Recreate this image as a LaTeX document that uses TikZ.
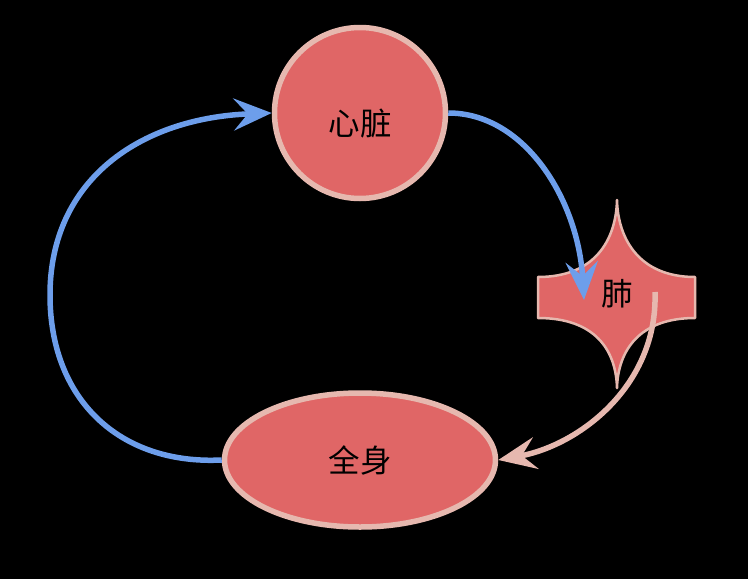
\documentclass[tikz,border=0pt]{standalone}
\usepackage{fontspec}
\newfontfamily\cjk{Noto Sans CJK SC}
\usetikzlibrary{arrows.meta,shapes.geometric}
\definecolor{organfill}{HTML}{E06666}
\definecolor{organline}{HTML}{E6B8AF}
\definecolor{flowblue}{HTML}{6D9EEB}
\tikzset{
  organtext/.style={font=\cjk\fontsize{31.5}{34}\selectfont, text=black},
  organ/.style={draw=organline, fill=organfill, line width=5.5pt, organtext},
  flow/.style={line width=5.5pt, -{Stealth[length=38pt,width=32pt,inset=14pt]}},
}
\begin{document}
\begin{tikzpicture}[x=1pt,y=-1pt]
\fill[black] (0,0) rectangle (748,579);
\useasboundingbox (0,0) rectangle (748,579);
% heart
\node[organ, circle, minimum size=171pt] (heart) at (360,113) {};
\node[organtext] (heartlabel) at (360,124) {心脏};
% body
\node[organ, ellipse, minimum width=271pt, minimum height=134pt] (body) at (360,460) {全身};
% lung shape
\draw[draw=organline, fill=organfill, line width=2.5pt, line join=round]
  (538,277) .. controls (595,277) and (616,240) .. (617,200)
  .. controls (618,240) and (640,277) .. (695,277)
  -- (695,318)
  .. controls (640,318) and (618,350) .. (617,388)
  .. controls (616,350) and (595,318) .. (538,318) -- cycle;
\node[organtext] (lung) at (617,294) {肺};
\coordinate (lungin) at (584,300);
\coordinate (lungout) at (655,292);
% connectors
\draw[flow, flowblue] (heart.east) .. controls (525,113) and (578,200) .. (lungin);
\draw[flow, organline] (lungout) .. controls (658,385) and (580,445) .. (body.east);
\draw[flow, flowblue] (body.west) .. controls (120,465) and (50,400) .. (50,295)
  .. controls (50,180) and (140,118) .. (heart.west);
\end{tikzpicture}
\end{document}
